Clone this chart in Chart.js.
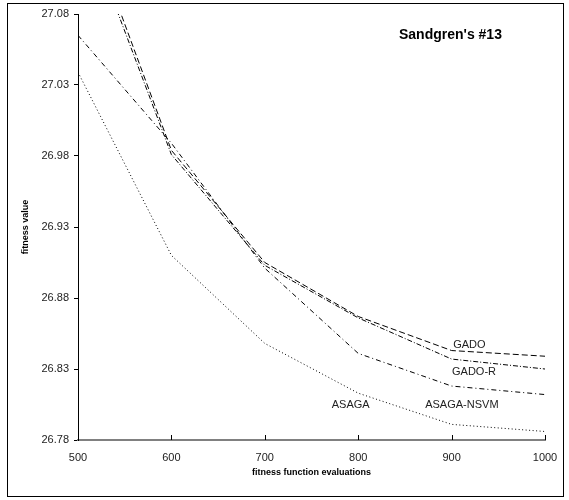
<!DOCTYPE html>
<html>
<head>
<meta charset="utf-8">
<script src="https://cdn.jsdelivr.net/npm/chart.js@4/dist/chart.umd.min.js"></script>
<style>
  body { margin: 0; background: #fff; }
  #wrap { position: relative; width: 569px; height: 500px; }
  #frame { position: absolute; left: 7px; top: 3px; width: 555px; height: 492px; border: 1px solid #000; pointer-events: none; }
</style>
</head>
<body>
<div id="wrap">
  <canvas id="myChart" width="569" height="500"></canvas>
  <div id="frame"></div>
</div>
<script>
// data
const evals = [500, 600, 700, 800, 900, 1000];
const gado = [27.162, 26.984, 26.905, 26.867, 26.843, 26.839];
const gadoR = [27.155, 26.981, 26.903, 26.866, 26.837, 26.830];
const asagaNsvm = [27.065, 26.989, 26.901, 26.841, 26.818, 26.812];
const asaga = [27.039, 26.910, 26.848, 26.813, 26.791, 26.786];
const yTicks = [26.78, 26.83, 26.88, 26.93, 26.98, 27.03, 27.08];

// labels next to the lines, in data units
const lineLabels = [
  { text: 'GADO', x: 919, y: 26.847 },
  { text: 'GADO-R', x: 924, y: 26.828 },
  { text: 'ASAGA-NSVM', x: 911, y: 26.805 },
  { text: 'ASAGA', x: 792, y: 26.805 }
];

const toPoints = arr => arr.map((v, i) => ({ x: evals[i], y: v }));

const font = 'Liberation Sans, Arial, sans-serif';

// x ticks point up into the plot, and text labels
const extras = {
  id: 'extras',
  afterDraw(chart) {
    const { ctx, scales: { x, y } } = chart;
    ctx.save();
    ctx.strokeStyle = '#000';
    ctx.lineWidth = 1;
    [600, 700, 800, 900, 1000].forEach(v => {
      const px = Math.round(x.getPixelForValue(v)) + 0.5;
      ctx.beginPath();
      ctx.moveTo(px, y.bottom);
      ctx.lineTo(px, y.bottom - 5);
      ctx.stroke();
    });
    ctx.fillStyle = '#222';
    ctx.font = '11px ' + font;
    ctx.textAlign = 'center';
    ctx.textBaseline = 'middle';
    lineLabels.forEach(l => {
      ctx.fillText(l.text, x.getPixelForValue(l.x), y.getPixelForValue(l.y));
    });
    ctx.fillStyle = '#000';
    ctx.font = 'bold 14px ' + font;
    ctx.textAlign = 'left';
    ctx.fillText("Sandgren's #13", 399, 35);
    ctx.restore();
  }
};

const ctx = document.getElementById('myChart').getContext('2d');

const myChart = new Chart(ctx, {
  type: 'line',
  data: {
    datasets: [
      { label: 'GADO', data: toPoints(gado), borderDash: [6, 3] },
      { label: 'GADO-R', data: toPoints(gadoR), borderDash: [5, 2, 1, 2] },
      { label: 'ASAGA-NSVM', data: toPoints(asagaNsvm), borderDash: [5, 3, 1, 3] },
      { label: 'ASAGA', data: toPoints(asaga), borderDash: [1, 2.5] }
    ].map(d => Object.assign(d, {
      borderColor: '#000',
      borderWidth: 1,
      pointRadius: 0,
      fill: false,
      tension: 0
    }))
  },
  options: {
    responsive: false,
    animation: false,
    layout: { padding: { top: 14, right: 24, left: 0, bottom: 20 } },
    plugins: {
      legend: { display: false },
      tooltip: { enabled: false }
    },
    scales: {
      x: {
        type: 'linear',
        min: 500,
        max: 1000,
        afterFit: s => { s.height = 40; },
        ticks: {
          stepSize: 100,
          padding: 11,
          color: '#222',
          font: { family: font, size: 11 },
          callback: v => String(v)
        },
        grid: { display: true, drawOnChartArea: false, drawTicks: false },
        border: { color: '#808080', width: 2 },
        title: {
          display: true,
          text: 'fitness function evaluations',
          color: '#000',
          font: { family: font, size: 9, weight: 'bold' },
          padding: { top: 3, bottom: 2 }
        }
      },
      y: {
        min: 26.78,
        max: 27.08,
        afterFit: s => { s.width = 78; },
        afterBuildTicks: s => { s.ticks = yTicks.map(v => ({ value: v })); },
        ticks: {
          padding: 5,
          color: '#222',
          font: { family: font, size: 11 },
          callback: v => v.toFixed(2)
        },
        grid: { drawOnChartArea: false, drawTicks: true, tickLength: 4, color: '#000' },
        border: { color: '#000', width: 1 },
        title: {
          display: true,
          text: 'fitness value',
          color: '#000',
          font: { family: font, size: 9, weight: 'bold' },
          padding: { top: 20 }
        }
      }
    }
  },
  plugins: [extras]
});
</script>
</body>
</html>
